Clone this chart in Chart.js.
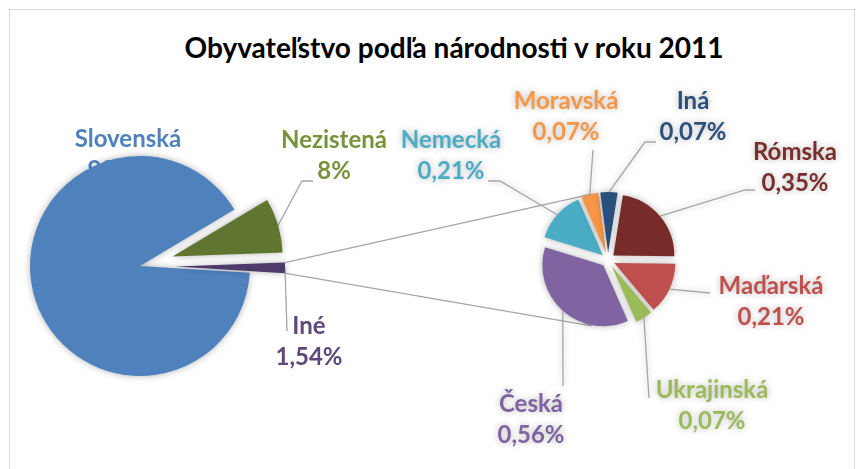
<!DOCTYPE html>
<html>
<head>
<meta charset="utf-8">
<script src="https://cdn.jsdelivr.net/npm/chart.js@4.4.1/dist/chart.umd.min.js"></script>
<style>
  body { margin: 0; background: #fff; overflow: hidden; }
  #wrap { position: relative; width: 862px; height: 469px; overflow: hidden; background: #fff; }
  #frame { position: absolute; left: 9px; top: 9px; width: 844px; height: 520px; border: 1.5px solid #d9d9d9; }
  #title { position: absolute; left: 0; top: 30px; width: 908px; text-align: center;
           font: bold 28px Lato, sans-serif; color: #000; }
  canvas { position: absolute; left: 0; top: 0; }
</style>
</head>
<body>
<div id="wrap">
  <div id="frame"></div>
  <div id="title">Obyvateľstvo podľa národnosti v roku 2011</div>
  <canvas id="mainPie" width="862" height="469"></canvas>
  <canvas id="detailPie" width="862" height="469"></canvas>
</div>
<script>
// main pie (the "Iné" slice is split into the second pie)
var mainLabels = ["Slovenská", "Nezistená", "Iné"];
var mainValues = [90.46, 8, 1.54];
var mainColors = ["#4f81bd", "#5f7530", "#4f3b6b"];
var mainTextColors = ["#4f81bd", "#77933c", "#5f497a"];

// second pie
var detailLabels = ["Rómska", "Maďarská", "Ukrajinská", "Česká", "Nemecká", "Moravská", "Iná"];
var detailValues = [0.35, 0.21, 0.07, 0.56, 0.21, 0.07, 0.07];
var detailColors = ["#772c2a", "#c0504d", "#9bbb59", "#8064a2", "#4bacc6", "#f79646", "#2a4f7c"];
var detailTextColors = ["#7a2e2c", "#c0504d", "#9bbb59", "#8064a2", "#4bacc6", "#f79646", "#2c4f7c"];

/* layout: slice explosion (px), label text centre + leader elbows */
var mainExplode = [0, 34, 35];
var detailExplode = [7, 7, 7, 7, 7, 7, 7];
var mainLabelLayout = [
  { x: 128, y: 139, path: null },
  { x: 334, y: 140, path: [[302, 181], [313, 181]] },
  { x: 309, y: 326, path: [[287, 331]] }
];
var detailLabelLayout = [
  { x: 795, y: 152, path: [[745, 190], [755, 190]] },
  { x: 771, y: 286, path: [[710, 293]] },
  { x: 712, y: 390, path: [[649, 398]] },
  { x: 531, y: 404, path: [[563, 386]] },
  { x: 451, y: 140, path: [[500, 181], [488, 181]] },
  { x: 566, y: 101, path: [[593, 150]] },
  { x: 693, y: 101, path: [[645, 142], [656, 142]] }
];
var labelFont = "bold 24px Lato, sans-serif";
var lineGap = 31;
var linkAngle = 104 * Math.PI / 180;

function fmt(v) {
  return String(v).replace(".", ",") + "%";
}

function arcPoint(arc, angle) {
  return [arc.x + Math.cos(angle) * arc.outerRadius, arc.y + Math.sin(angle) * arc.outerRadius];
}

// pull slices out of the centre, like Excel's point explosion
function explodePlugin(dist) {
  return {
    id: "explode",
    afterDatasetsUpdate: function (chart) {
      var a = chart.chartArea;
      var cx = (a.left + a.right) / 2, cy = (a.top + a.bottom) / 2;
      chart.getDatasetMeta(0).data.forEach(function (arc, i) {
        var mid = (arc.startAngle + arc.endAngle) / 2;
        arc.x = cx + Math.cos(mid) * dist[i];
        arc.y = cy + Math.sin(mid) * dist[i];
      });
    }
  };
}

var sliceShadow = {
  id: "sliceShadow",
  beforeDatasetsDraw: function (chart) {
    var c = chart.ctx;
    c.save();
    c.shadowColor = "rgba(0,0,0,0.3)";
    c.shadowBlur = 7;
  },
  afterDatasetsDraw: function (chart) {
    chart.ctx.restore();
  }
};

function labelPlugin(id, hook, layout, labels, values, textColors) {
  var p = { id: id };
  p[hook] = function (chart) {
    var ctx = chart.ctx;
    var meta = chart.getDatasetMeta(0);
    ctx.save();
    ctx.strokeStyle = "#a6a6a6";
    ctx.lineWidth = 1.3;
    layout.forEach(function (l, i) {
      var arc = meta.data[i];
      if (l.path) {
        var p0 = arcPoint(arc, (arc.startAngle + arc.endAngle) / 2);
        ctx.beginPath();
        ctx.moveTo(p0[0], p0[1]);
        l.path.forEach(function (q) { ctx.lineTo(q[0], q[1]); });
        ctx.stroke();
      }
      ctx.fillStyle = textColors[i];
      ctx.font = labelFont;
      ctx.textAlign = "center";
      ctx.textBaseline = "middle";
      ctx.fillText(labels[i], l.x, l.y);
      ctx.fillText(fmt(values[i]), l.x, l.y + lineGap);
    });
    ctx.restore();
  };
  return p;
}

var mainChart = new Chart(document.getElementById("mainPie"), {
  type: "pie",
  data: {
    labels: mainLabels,
    datasets: [{
      data: mainValues,
      backgroundColor: mainColors,
      borderWidth: 0
    }]
  },
  options: {
    responsive: false,
    animation: false,
    events: [],
    radius: 110,
    rotation: 93.5,
    layout: { padding: { left: 0, right: 582, top: 63, bottom: 0 } },
    plugins: { legend: { display: false }, tooltip: { enabled: false } }
  },
  plugins: [
    explodePlugin(mainExplode),
    labelPlugin("mainLabels", "beforeDatasetsDraw", mainLabelLayout, mainLabels, mainValues, mainTextColors),
    sliceShadow
  ]
});

// lines from the "Iné" slice to the second pie
var linkLines = {
  id: "linkLines",
  beforeDatasetsDraw: function (chart) {
    var other = mainChart.getDatasetMeta(0).data[2];
    var a = arcPoint(other, other.startAngle);
    var b = arcPoint(other, other.endAngle);
    var area = chart.chartArea;
    var cx = (area.left + area.right) / 2, cy = (area.top + area.bottom) / 2;
    var R2 = chart.getDatasetMeta(0).controller.outerRadius + detailExplode[0];
    var ctx = chart.ctx;
    ctx.save();
    ctx.strokeStyle = "#a6a6a6";
    ctx.lineWidth = 1.3;
    ctx.beginPath();
    ctx.moveTo(a[0], a[1]);
    ctx.lineTo(cx + Math.cos(-linkAngle) * R2, cy + Math.sin(-linkAngle) * R2);
    ctx.moveTo(b[0], b[1]);
    ctx.lineTo(cx + Math.cos(linkAngle) * R2, cy + Math.sin(linkAngle) * R2);
    ctx.stroke();
    ctx.restore();
  }
};

var detailChart = new Chart(document.getElementById("detailPie"), {
  type: "pie",
  data: {
    labels: detailLabels,
    datasets: [{
      data: detailValues,
      backgroundColor: detailColors,
      borderWidth: 0
    }]
  },
  options: {
    responsive: false,
    animation: false,
    events: [],
    radius: 61,
    rotation: 9,
    layout: { padding: { left: 354, right: 0, top: 51, bottom: 0 } },
    plugins: { legend: { display: false }, tooltip: { enabled: false } }
  },
  plugins: [
    explodePlugin(detailExplode),
    linkLines,
    labelPlugin("detailLabels", "afterDatasetsDraw", detailLabelLayout, detailLabels, detailValues, detailTextColors),
    sliceShadow
  ]
});
</script>
</body>
</html>
